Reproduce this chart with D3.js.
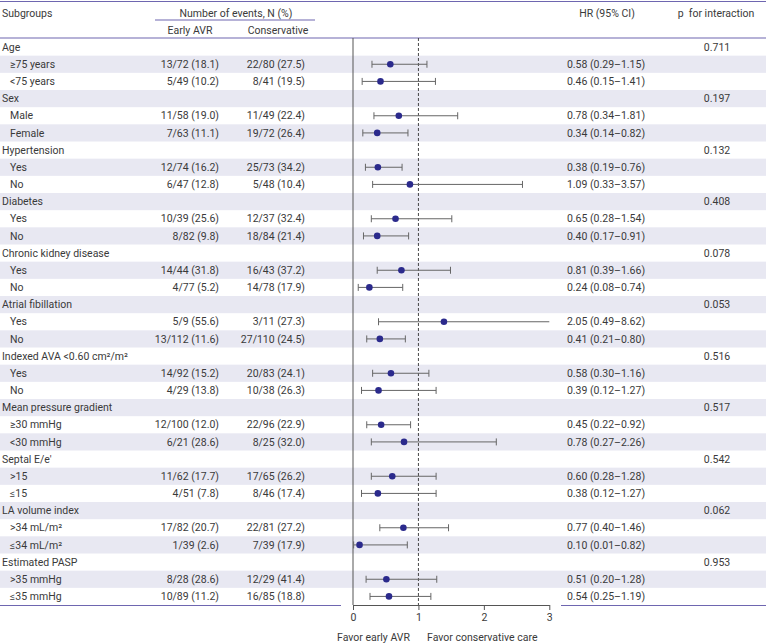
<!DOCTYPE html>
<html>
<head>
<meta charset="utf-8">
<script src="https://cdn.jsdelivr.net/npm/d3@7"></script>
<style>
  html, body { margin: 0; padding: 0; background: #fff; }
  svg { display: block; font-family: Roboto, "Noto Sans", sans-serif; }
</style>
</head>
<body>
<svg id="chart" width="766" height="644"></svg>
<script>
// Subgroup headings and p for interaction
const groupNames = ['Age', 'Sex', 'Hypertension', 'Diabetes', 'Chronic kidney disease',
  'Atrial fibillation', 'Indexed AVA <0.60 cm²/m²', 'Mean pressure gradient',
  'Septal E/e′', 'LA volume index', 'Estimated PASP'];
const pInteraction = ['0.711', '0.197', '0.132', '0.408', '0.078', '0.053',
  '0.516', '0.517', '0.542', '0.062', '0.953'];

// Two levels per subgroup
const subLabels = ['≥75 years', '<75 years', 'Male', 'Female', 'Yes', 'No', 'Yes', 'No',
  'Yes', 'No', 'Yes', 'No', 'Yes', 'No', '≥30 mmHg', '<30 mmHg', '>15', '≤15',
  '>34 mL/m²', '≤34 mL/m²', '>35 mmHg', '≤35 mmHg'];
const earlyAVR = ['13/72 (18.1)', '5/49 (10.2)', '11/58 (19.0)', '7/63 (11.1)',
  '12/74 (16.2)', '6/47 (12.8)', '10/39 (25.6)', '8/82 (9.8)', '14/44 (31.8)',
  '4/77 (5.2)', '5/9 (55.6)', '13/112 (11.6)', '14/92 (15.2)', '4/29 (13.8)',
  '12/100 (12.0)', '6/21 (28.6)', '11/62 (17.7)', '4/51 (7.8)', '17/82 (20.7)',
  '1/39 (2.6)', '8/28 (28.6)', '10/89 (11.2)'];
const conservative = ['22/80 (27.5)', '8/41 (19.5)', '11/49 (22.4)', '19/72 (26.4)',
  '25/73 (34.2)', '5/48 (10.4)', '12/37 (32.4)', '18/84 (21.4)', '16/43 (37.2)',
  '14/78 (17.9)', '3/11 (27.3)', '27/110 (24.5)', '20/83 (24.1)', '10/38 (26.3)',
  '22/96 (22.9)', '8/25 (32.0)', '17/65 (26.2)', '8/46 (17.4)', '22/81 (27.2)',
  '7/39 (17.9)', '12/29 (41.4)', '16/85 (18.8)'];
const hrText = ['0.58 (0.29–1.15)', '0.46 (0.15–1.41)', '0.78 (0.34–1.81)', '0.34 (0.14–0.82)',
  '0.38 (0.19–0.76)', '1.09 (0.33–3.57)', '0.65 (0.28–1.54)', '0.40 (0.17–0.91)',
  '0.81 (0.39–1.66)', '0.24 (0.08–0.74)', '2.05 (0.49–8.62)', '0.41 (0.21–0.80)',
  '0.58 (0.30–1.16)', '0.39 (0.12–1.27)', '0.45 (0.22–0.92)', '0.78 (0.27–2.26)',
  '0.60 (0.28–1.28)', '0.38 (0.12–1.27)', '0.77 (0.40–1.46)', '0.10 (0.01–0.82)',
  '0.51 (0.20–1.28)', '0.54 (0.25–1.19)'];

// Marker positions as drawn in the figure
const hr = [0.57, 0.42, 0.70, 0.37, 0.38, 0.87, 0.65, 0.37, 0.74, 0.25, 1.39, 0.41,
  0.58, 0.39, 0.43, 0.78, 0.60, 0.38, 0.77, 0.10, 0.51, 0.55];
const ciLow = [0.29, 0.14, 0.32, 0.15, 0.19, 0.30, 0.28, 0.16, 0.37, 0.08, 0.39, 0.21,
  0.30, 0.13, 0.21, 0.28, 0.28, 0.13, 0.41, 0.01, 0.20, 0.26];
const ciHigh = [1.13, 1.26, 1.60, 0.84, 0.75, 2.59, 1.51, 0.85, 1.49, 0.76, 8.62, 0.80,
  1.16, 1.27, 0.88, 2.19, 1.27, 1.27, 1.46, 0.83, 1.28, 1.19];

const xTicks = [0, 1, 2, 3];

// build row list: heading then its two levels
const rows = [];
groupNames.forEach((g, i) => {
  rows.push({ type: 'group', label: g, p: pInteraction[i] });
  for (let k = 0; k < 2; k++) {
    const j = i * 2 + k;
    rows.push({ type: 'sub', label: subLabels[j], early: earlyAVR[j], cons: conservative[j],
      hrText: hrText[j], hr: hr[j], lo: ciLow[j], hi: ciHigh[j] });
  }
});

const W = 766;
const svg = d3.select('#chart');
const textColor = '#3a3a3a';
const purple = '#6e66b0';
const fs = 10.5;

const y = d3.scaleBand().domain(d3.range(rows.length)).range([38.5, 605]).padding(0);
const x = d3.scaleLinear().domain([0, 3]).range([353, 549.3]);

// stripes
svg.append('g').selectAll('rect')
  .data(rows.map((r, i) => i).filter(i => i % 2 === 1))
  .join('rect')
  .attr('x', 0).attr('width', W)
  .attr('y', i => y(i)).attr('height', y.bandwidth())
  .attr('fill', '#e8e8f2');

// header lines
svg.append('line').attr('x1', 0).attr('x2', W).attr('y1', 1.5).attr('y2', 1.5)
  .attr('stroke', purple).attr('stroke-width', 1.2);
svg.append('line').attr('x1', 0).attr('x2', W).attr('y1', 38).attr('y2', 38)
  .attr('stroke', purple).attr('stroke-width', 1.2);
svg.append('line').attr('x1', 155).attr('x2', 315).attr('y1', 20).attr('y2', 20)
  .attr('stroke', purple).attr('stroke-width', 1.2);
// bottom lines
svg.append('line').attr('x1', 0).attr('x2', 341).attr('y1', 605.5).attr('y2', 605.5)
  .attr('stroke', purple).attr('stroke-width', 1.2);
svg.append('line').attr('x1', 561).attr('x2', W).attr('y1', 605.5).attr('y2', 605.5)
  .attr('stroke', purple).attr('stroke-width', 1.2);

// header text
const hdr = svg.append('g').attr('font-size', fs).attr('fill', textColor);
hdr.append('text').attr('x', 2).attr('y', 13).attr('dy', '0.35em').text('Subgroups');
hdr.append('text').attr('x', 236).attr('y', 13).attr('dy', '0.35em')
  .attr('text-anchor', 'middle').text('Number of events, N (%)');
hdr.append('text').attr('x', 190).attr('y', 30).attr('dy', '0.35em')
  .attr('text-anchor', 'middle').text('Early AVR');
hdr.append('text').attr('x', 278).attr('y', 30).attr('dy', '0.35em')
  .attr('text-anchor', 'middle').text('Conservative');
hdr.append('text').attr('x', 607).attr('y', 13).attr('dy', '0.35em')
  .attr('text-anchor', 'middle').text('HR (95% CI)');
hdr.append('text').attr('x', 716).attr('y', 13).attr('dy', '0.35em')
  .attr('text-anchor', 'middle').style('white-space', 'pre').text('p  for interaction');

// row text
const rowG = svg.append('g').attr('font-size', fs).attr('fill', textColor);
rows.forEach((r, i) => {
  const cy = y(i) + y.bandwidth() / 2;
  if (r.type === 'group') {
    rowG.append('text').attr('x', 2).attr('y', cy).attr('dy', '0.35em').text(r.label);
    rowG.append('text').attr('x', 717).attr('y', cy).attr('dy', '0.35em')
      .attr('text-anchor', 'middle').text(r.p);
  } else {
    rowG.append('text').attr('x', 10).attr('y', cy).attr('dy', '0.35em').text(r.label);
    rowG.append('text').attr('x', 219).attr('y', cy).attr('dy', '0.35em')
      .attr('text-anchor', 'end').text(r.early);
    rowG.append('text').attr('x', 305).attr('y', cy).attr('dy', '0.35em')
      .attr('text-anchor', 'end').text(r.cons);
    rowG.append('text').attr('x', 606).attr('y', cy).attr('dy', '0.35em')
      .attr('text-anchor', 'middle').text(r.hrText);
  }
});

// reference lines
svg.append('line').attr('x1', x(0)).attr('x2', x(0)).attr('y1', 38).attr('y2', 605)
  .attr('stroke', '#555').attr('stroke-width', 1);
svg.append('line').attr('x1', x(1)).attr('x2', x(1)).attr('y1', 38).attr('y2', 605)
  .attr('stroke', '#333').attr('stroke-width', 0.9).attr('stroke-dasharray', '3,2');

// CI bars and markers
const plot = svg.append('g');
rows.forEach((r, i) => {
  if (r.type !== 'sub') return;
  const cy = y(i) + y.bandwidth() / 2;
  const lo = Math.max(0, r.lo), hi = Math.min(3, r.hi);
  plot.append('line').attr('x1', x(lo)).attr('x2', x(hi)).attr('y1', cy).attr('y2', cy)
    .attr('stroke', '#666').attr('stroke-width', 1);
  if (r.lo >= 0) {
    plot.append('line').attr('x1', x(lo)).attr('x2', x(lo)).attr('y1', cy - 3.5).attr('y2', cy + 3.5)
      .attr('stroke', '#666').attr('stroke-width', 1);
  }
  if (r.hi <= 3) {
    plot.append('line').attr('x1', x(hi)).attr('x2', x(hi)).attr('y1', cy - 3.5).attr('y2', cy + 3.5)
      .attr('stroke', '#666').attr('stroke-width', 1);
  }
  plot.append('circle').attr('cx', x(r.hr)).attr('cy', cy).attr('r', 3.3)
    .attr('fill', '#2b2a8c');
});

// x axis
const axis = svg.append('g')
  .attr('transform', 'translate(0,605)')
  .call(d3.axisBottom(x).tickValues(xTicks).tickSize(5).tickSizeOuter(0).tickFormat(d3.format('d')));
axis.select('.domain').attr('stroke', '#555');
axis.selectAll('.tick line').attr('stroke', '#555');
axis.selectAll('.tick text').attr('font-size', fs).attr('fill', textColor)
  .attr('font-family', 'Roboto, "Noto Sans", sans-serif').attr('y', 9);

svg.append('text').attr('x', 410).attr('y', 637).attr('dy', '0.35em')
  .attr('text-anchor', 'end').attr('font-size', fs).attr('fill', textColor)
  .text('Favor early AVR');
svg.append('text').attr('x', 427).attr('y', 637).attr('dy', '0.35em')
  .attr('font-size', fs).attr('fill', textColor)
  .text('Favor conservative care');
</script>
</body>
</html>
